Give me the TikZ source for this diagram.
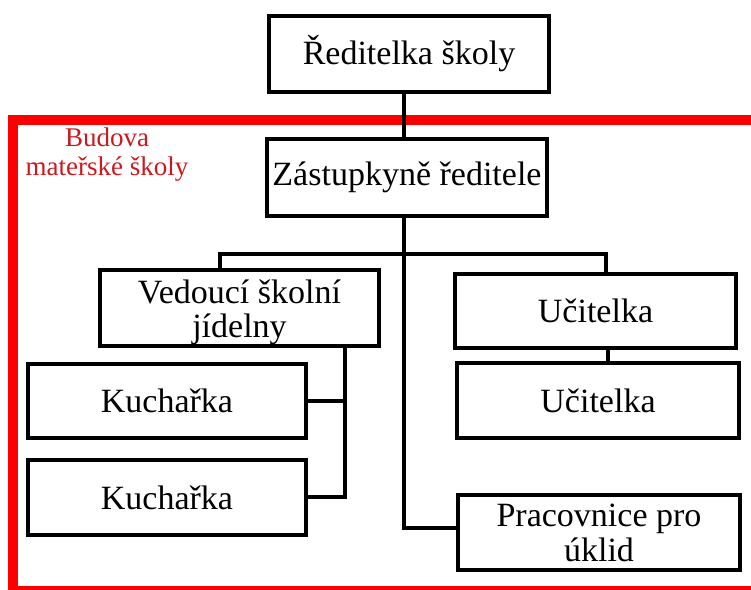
\documentclass[tikz,border=0pt]{standalone}
\usepackage{fontspec}
\setmainfont{Liberation Serif}
\definecolor{frame}{RGB}{250,0,0}
\definecolor{labelred}{RGB}{205,25,30}
\begin{document}
\begin{tikzpicture}[x=1pt,y=-1pt,
  box/.style={draw=black,line width=4.5pt,fill=white,rectangle,inner sep=0pt,align=center,
    font=\fontsize{34}{35}\selectfont},
  boxtext/.style={inner sep=0pt,align=center,font=\fontsize{34}{34}\selectfont},
  link/.style={draw=black,line width=4.5pt}]
\useasboundingbox (0,0) rectangle (751,589);
\begin{scope}
\clip (0,0) rectangle (751,589);
\draw[frame,line width=10pt] (13,120) rectangle (770,591);
\end{scope}
\node[text=labelred,align=center,font=\fontsize{27}{29}\selectfont] (lbl) at (107,155) {Budova\\mateřské školy};
\node[box,minimum width=280pt,minimum height=76pt] (red) at (409,54) {Ředitelka školy};
\node[box,minimum width=280pt,minimum height=77pt] (zast) at (407,177.5) {Zástupkyně ředitele};
\node[box,minimum width=279pt,minimum height=76pt] (ved) at (239.5,308) {};
\node[boxtext] (vedtext) at ([yshift=-4pt]ved.center) {Vedoucí školní\\jídelny};
\node[box,minimum width=281pt,minimum height=74pt] (uc1) at (595.5,311) {Učitelka};
\node[box,minimum width=282pt,minimum height=75pt] (uc2) at (598,400.5) {Učitelka};
\node[box,minimum width=278pt,minimum height=74pt] (k1) at (167,401) {Kuchařka};
\node[box,minimum width=278pt,minimum height=75pt] (k2) at (167,497.5) {Kuchařka};
\node[box,minimum width=282pt,minimum height=75pt] (prac) at (599,532.5) {Pracovnice pro\\úklid};
\coordinate (t0) at (404,254);
\coordinate (tend) at (404,528);
\coordinate (kv) at (345,497);
\draw[link] (red.south -| t0) -- (zast.north -| t0);
\draw[link] (zast.south -| t0) -- (tend) -- (tend -| prac.west);
\draw[link] (ved.north -| 220,0) -- (220,254) -- (606,254) -- (uc1.north -| 606,0);
\draw[link] (ved.south -| kv) -- (kv) -- (k2.east |- kv);
\draw[link] (k1.east) -- (k1.east -| kv);
\draw[link] (uc1.south -| 608,0) -- (uc2.north -| 608,0);
\end{tikzpicture}
\end{document}
